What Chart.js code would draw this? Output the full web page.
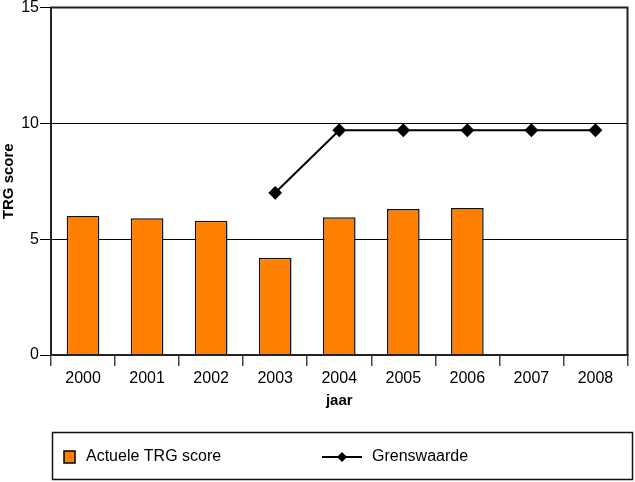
<!DOCTYPE html>
<html>
<head>
<meta charset="utf-8">
<script src="https://cdn.jsdelivr.net/npm/chart.js@4/dist/chart.umd.min.js"></script>
<style>
  html, body { margin: 0; padding: 0; background: #fff; }
  #wrap { width: 635px; height: 482px; }
</style>
</head>
<body>
<div id="wrap"><canvas id="trgChart" width="635" height="482"></canvas></div>
<script>
// Gegevens
const jaren = ['2000', '2001', '2002', '2003', '2004', '2005', '2006', '2007', '2008'];
const trgScore = [6.0, 5.9, 5.8, 4.2, 5.95, 6.3, 6.35, null, null];
const grenswaarde = [null, null, null, 7.0, 9.7, 9.7, 9.7, 9.7, 9.7];
const yTicks = [0, 5, 10, 15];

const FONT = '"Liberation Sans", Arial, sans-serif';

// Kader rond het plotgebied
const kaderPlugin = {
    id: 'kader',
    afterDraw(chart) {
        const { ctx, chartArea: a } = chart;
        ctx.save();
        ctx.strokeStyle = '#222';
        ctx.lineWidth = 2;
        ctx.strokeRect(a.left, a.top, a.right - a.left, a.bottom - a.top);
        ctx.restore();
    }
};

// Legenda onderaan in een kader
const legendaPlugin = {
    id: 'legenda',
    afterDraw(chart) {
        const ctx = chart.ctx;
        const bar = chart.data.datasets[0];
        const lijn = chart.data.datasets[1];
        ctx.save();
        ctx.strokeStyle = '#111';
        ctx.lineWidth = 1.5;
        ctx.strokeRect(52.5, 432.5, 580, 47);

        const y = 457;
        ctx.fillStyle = bar.backgroundColor;
        ctx.fillRect(64, y - 6, 11, 12);
        ctx.strokeStyle = '#000';
        ctx.lineWidth = 1.5;
        ctx.strokeRect(64, y - 6, 11, 12);

        ctx.fillStyle = '#000';
        ctx.font = '16px ' + FONT;
        ctx.textBaseline = 'middle';
        ctx.fillText(bar.label, 86, y);

        ctx.beginPath();
        ctx.moveTo(322, y);
        ctx.lineTo(362, y);
        ctx.lineWidth = 2;
        ctx.stroke();
        ctx.beginPath();
        ctx.moveTo(342, y - 5);
        ctx.lineTo(347, y);
        ctx.lineTo(342, y + 5);
        ctx.lineTo(337, y);
        ctx.closePath();
        ctx.fill();

        ctx.fillText(lijn.label, 372, y);
        ctx.restore();
    }
};

const ctx = document.getElementById('trgChart').getContext('2d');
new Chart(ctx, {
    type: 'bar',
    data: {
        labels: jaren,
        datasets: [
            {
                type: 'bar',
                label: 'Actuele TRG score',
                data: trgScore,
                backgroundColor: '#FF7F00',
                borderColor: '#111',
                borderWidth: 1.5,
                categoryPercentage: 1,
                barPercentage: 0.51,
                order: 2
            },
            {
                type: 'line',
                label: 'Grenswaarde',
                data: grenswaarde,
                borderColor: '#000',
                backgroundColor: '#000',
                borderWidth: 2,
                pointStyle: 'rectRot',
                pointRadius: 5.5,
                pointHoverRadius: 5.5,
                spanGaps: false,
                order: 1
            }
        ]
    },
    options: {
        responsive: false,
        animation: false,
        events: [],
        layout: { padding: { top: 0, right: 2, bottom: 72, left: 0 } },
        plugins: {
            legend: { display: false },
            tooltip: { enabled: false }
        },
        scales: {
            x: {
                offset: true,
                grid: {
                    offset: true,
                    drawOnChartArea: false,
                    color: '#444',
                    lineWidth: 1.5,
                    tickLength: 11
                },
                border: { display: true, color: '#222', width: 2 },
                ticks: {
                    color: '#000',
                    font: { family: FONT, size: 16 },
                    padding: 3,
                    maxRotation: 0
                },
                title: {
                    display: true,
                    text: 'jaar',
                    color: '#000',
                    font: { family: FONT, size: 15, weight: 'bold' },
                    padding: { top: 2, bottom: 0 }
                },
                afterFit(scale) { scale.height = 55; }
            },
            y: {
                min: 0,
                max: 15,
                afterBuildTicks(scale) {
                    scale.ticks = yTicks.map(v => ({ value: v }));
                },
                grid: {
                    color: '#000',
                    lineWidth: 1,
                    tickLength: 11
                },
                border: { display: true, color: '#222', width: 2 },
                ticks: {
                    color: '#000',
                    font: { family: FONT, size: 16 },
                    padding: 1
                },
                title: {
                    display: true,
                    text: 'TRG score',
                    color: '#000',
                    font: { family: FONT, size: 15, weight: 'bold' },
                    padding: { top: 0, bottom: 0 }
                },
                afterFit(scale) {
                    scale.width = 51;
                    scale.paddingTop = 0;
                    scale.paddingBottom = 0;
                }
            }
        }
    },
    plugins: [kaderPlugin, legendaPlugin]
});
</script>
</body>
</html>
